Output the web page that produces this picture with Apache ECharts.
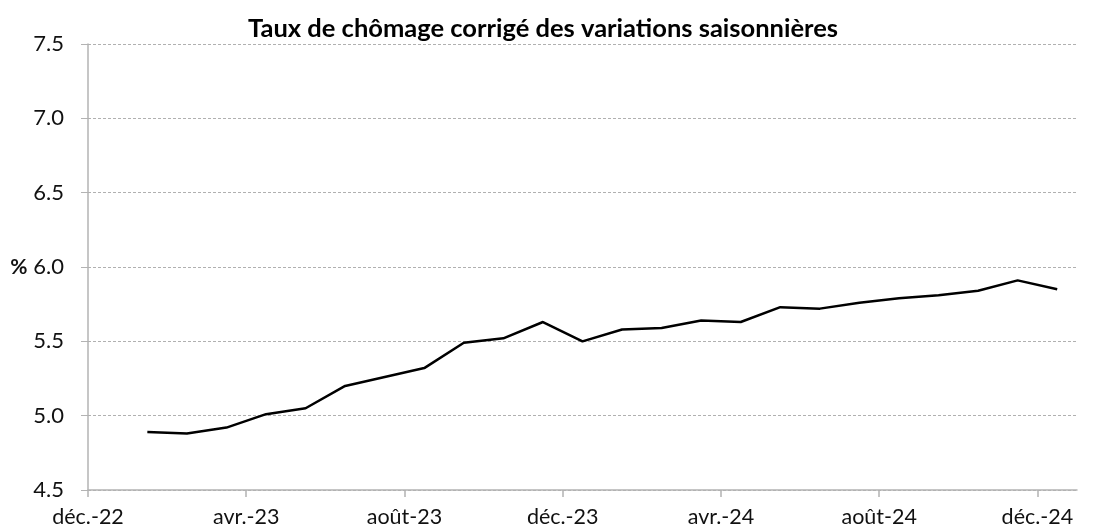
<!DOCTYPE html>
<html>
<head>
<meta charset="utf-8">
<script src="https://cdn.jsdelivr.net/npm/echarts@6/dist/echarts.min.js"></script>
<style>html,body{margin:0;padding:0;background:#fff}#c{width:1098px;height:531px}</style>
</head>
<body>
<div id="c"></div>
<script>
// Months (Jan-23 .. Dec-24)
var months = ["janv.-23","févr.-23","mars-23","avr.-23","mai-23","juin-23","juil.-23","août-23","sept.-23","oct.-23","nov.-23","déc.-23",
              "janv.-24","févr.-24","mars-24","avr.-24","mai-24","juin-24","juil.-24","août-24","sept.-24","oct.-24","nov.-24","déc.-24"];
var rates = [4.89,4.88,4.92,5.01,5.05,5.20,5.26,5.32,5.49,5.52,5.63,5.50,
             5.58,5.59,5.64,5.63,5.73,5.72,5.76,5.79,5.81,5.84,5.91,5.85];
var tickLabels = ["déc.-22","avr.-23","août-23","déc.-23","avr.-24","août-24","déc.-24"];
var tickPositions = [0,4,8,12,16,20,24];

var seriesData = rates.map(function(v,i){ return [i+1.5, v]; });

var chart = echarts.init(document.getElementById('c'));
var font = 'Lato, "Open Sans", sans-serif';
chart.setOption({
  animation:false,
  title:{
    text:'Taux de chômage corrigé des variations saisonnières',
    left:243, top:11,
    textStyle:{fontFamily:font, fontWeight:'bold', fontSize:25.5, color:'#000'}
  },
  grid:{left:88, right:21, top:44, bottom:41},
  xAxis:{
    type:'value', min:0, max:25,
    axisLine:{lineStyle:{color:'#b3b3b3', width:1.5}},
    axisTick:{show:true, length:7, customValues:tickPositions, lineStyle:{color:'#b3b3b3', width:1.5}},
    axisLabel:{customValues:tickPositions, margin:16, fontFamily:font, fontSize:21.5, color:'#111',
      formatter:function(v){ var k=tickPositions.indexOf(v); return k>=0?tickLabels[k]:''; }},
    splitLine:{show:false}
  },
  yAxis:{
    type:'value', min:4.5, max:7.5, interval:0.5,
    name:'%', nameLocation:'middle', nameRotate:0, nameGap:60,
    nameTextStyle:{fontFamily:font, fontSize:21, fontWeight:'bold', color:'#111'},
    axisLine:{show:true, lineStyle:{color:'#b3b3b3', width:1.5}},
    axisTick:{show:true, length:7, lineStyle:{color:'#b3b3b3', width:1}},
    axisLabel:{margin:24, fontFamily:font, fontSize:22, color:'#111',
      formatter:function(v){ return v.toFixed(1); }},
    splitLine:{show:true, lineStyle:{color:'#b0b0b0', type:[3,2], width:1}}
  },
  series:[{
    type:'line', data:seriesData, showSymbol:false, symbol:'none',
    lineStyle:{color:'#000', width:2.5}
  }]
});
</script>
</body>
</html>
